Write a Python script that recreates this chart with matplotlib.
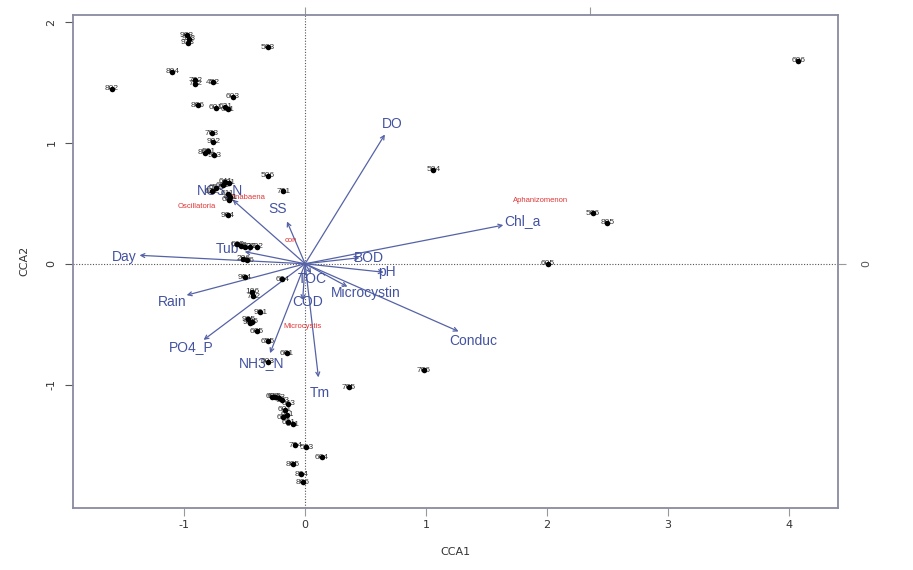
import matplotlib
matplotlib.use("Agg")
import matplotlib.pyplot as plt

# ---- data ----
site_labels = ["802", "903", "913", "933", "503", "804", "702", "742", "452",
               "603", "806", "601", "621", "631", "703", "902", "901", "801", "913",
               "506", "701", "641", "631", "661", "651", "621", "611", "671", "681",
               "904", "662", "672", "612", "622", "632", "206", "226", "904", "604",
               "106", "702", "901", "905", "915", "925", "605", "655", "601", "603",
               "705", "603", "613", "623", "633", "643", "601", "611", "621", "631",
               "641", "704", "503", "604", "805", "804", "806", "504", "506", "805",
               "605", "706", "606"]
site_x = [-1.60, -0.98, -0.96, -0.97, -0.31, -1.10, -0.91, -0.91, -0.76,
          -0.60, -0.89, -0.74, -0.66, -0.64, -0.77, -0.76, -0.80, -0.83, -0.75,
          -0.31, -0.18, -0.66, -0.63, -0.68, -0.74, -0.77, -0.64, -0.62, -0.63,
          -0.64, -0.56, -0.53, -0.50, -0.46, -0.40, -0.51, -0.48, -0.50, -0.19,
          -0.44, -0.43, -0.37, -0.47, -0.46, -0.44, -0.40, -0.31, -0.15, -0.31,
          0.36, -0.27, -0.25, -0.22, -0.19, -0.14, -0.17, -0.15, -0.18, -0.14,
          -0.10, -0.08, 0.01, 0.14, -0.10, -0.03, -0.02, 1.06, 2.38, 2.50,
          2.01, 0.98, 4.08]
site_y = [1.45, 1.89, 1.86, 1.83, 1.79, 1.59, 1.52, 1.49, 1.50,
          1.38, 1.31, 1.29, 1.30, 1.28, 1.08, 1.01, 0.93, 0.92, 0.90,
          0.73, 0.60, 0.68, 0.67, 0.65, 0.63, 0.60, 0.58, 0.55, 0.53,
          0.40, 0.16, 0.15, 0.14, 0.14, 0.14, 0.04, 0.03, -0.11, -0.13,
          -0.23, -0.27, -0.40, -0.46, -0.49, -0.48, -0.56, -0.64, -0.74, -0.81,
          -1.02, -1.10, -1.10, -1.11, -1.13, -1.16, -1.21, -1.25, -1.27, -1.31,
          -1.33, -1.50, -1.52, -1.60, -1.66, -1.74, -1.81, 0.78, 0.42, 0.34,
          0.00, -0.88, 1.68]

env_names = ["DO", "Chl_a", "BOD", "pH", "Microcystin", "Conduc", "TOC", "COD",
             "Tm", "NH3_N", "PO4_P", "Rain", "Day", "Tub", "NO3_N", "SS"]
env_x = [0.66, 1.64, 0.45, 0.65, 0.35, 1.27, 0.05, -0.02,
         0.11, -0.29, -0.84, -0.98, -1.37, -0.50, -0.60, -0.15]
env_y = [1.07, 0.32, 0.05, -0.07, -0.19, -0.56, -0.08, -0.30,
         -0.94, -0.74, -0.63, -0.26, 0.07, 0.10, 0.53, 0.35]
env_lab_x = [0.72, 1.80, 0.53, 0.68, 0.50, 1.39, 0.06, 0.02,
             0.12, -0.36, -0.94, -1.10, -1.50, -0.64, -0.70, -0.23]
env_lab_y = [1.16, 0.35, 0.05, -0.07, -0.24, -0.64, -0.13, -0.32,
             -1.07, -0.82, -0.69, -0.32, 0.06, 0.12, 0.61, 0.45]

sp_names = ["Aphanizomenon", "Oscillatoria", "Anabaena", "con", "Microcystis"]
sp_x = [1.95, -0.90, -0.47, -0.12, -0.02]
sp_y = [0.52, 0.47, 0.55, 0.19, -0.52]

xticks = [-1, 0, 1, 2, 3, 4]
yticks = [-1, 0, 1, 2]

# ---- plot ----
fig = plt.figure(figsize=(9.13, 5.70), dpi=100)
ax = fig.add_axes([0.080, 0.109, 0.838, 0.865])
ax.set_xlim(-1.92, 4.41)
ax.set_ylim(-2.02, 2.06)

frame_col = "#8a8aa0"
for s in ax.spines.values():
    s.set_color(frame_col)
    s.set_linewidth(1.3)

ax.axhline(0, color="#555555", ls=(0, (1, 1.5)), lw=0.8, zorder=1)
ax.axvline(0, color="#555555", ls=(0, (1, 1.5)), lw=0.8, zorder=1)

arrow_col = "#5563a6"
text_col = "#4353a0"
for nm, x, y, lx, ly in zip(env_names, env_x, env_y, env_lab_x, env_lab_y):
    ax.annotate("", xy=(x, y), xytext=(0, 0),
                arrowprops=dict(arrowstyle="->", color=arrow_col, lw=0.9,
                                mutation_scale=7, shrinkA=0, shrinkB=0), zorder=3)
    ax.text(lx, ly, nm, color=text_col, fontsize=10, ha="center", va="center",
            zorder=4, family="Liberation Sans")

for nm, x, y in zip(sp_names, sp_x, sp_y):
    ax.text(x, y, nm, color="#e03535", fontsize=5.5, ha="center", va="center",
            zorder=5, family="Liberation Sans")

for lab, x, y in zip(site_labels, site_x, site_y):
    ax.text(x, y, lab, color="#333333", fontsize=6, ha="center", va="center",
            zorder=5, family="Liberation Sans")
ax.scatter(site_x, site_y, s=16, color="black", zorder=6, linewidths=0)

ax.set_xticks(xticks)
ax.set_yticks(yticks)
ax.set_xticklabels([str(t) for t in xticks], fontsize=8, color="#333333",
                   family="Liberation Sans Narrow")
ax.set_yticklabels([str(t) for t in yticks], fontsize=8, color="#333333",
                   rotation=90, va="center", family="Liberation Sans Narrow")
ax.tick_params(axis="x", length=6, width=0.8, color="#999999", pad=3)
ax.tick_params(axis="y", length=6, width=0.8, color="#555555", pad=6)
ax.set_xlabel("CCA1", fontsize=8, color="#333333", labelpad=12,
              family="Liberation Sans Narrow")
ax.set_ylabel("CCA2", fontsize=8, color="#333333", labelpad=12,
              family="Liberation Sans Narrow")

# top and right axes (species/arrow scale)
top = ax.secondary_xaxis("top")
top.set_xticks([0, 2.36])
top.set_xticklabels(["", ""])
top.tick_params(length=6, width=0.8, color="#999999")
top.spines["top"].set_visible(False)
right = ax.secondary_yaxis("right")
right.set_yticks([0])
right.set_yticklabels(["0"], rotation=270, va="center", fontsize=8,
                      color="#555555")
right.tick_params(length=6, width=0.8, color="#999999", pad=8)
right.spines["right"].set_visible(False)

fig.savefig("out.png", dpi=100)
